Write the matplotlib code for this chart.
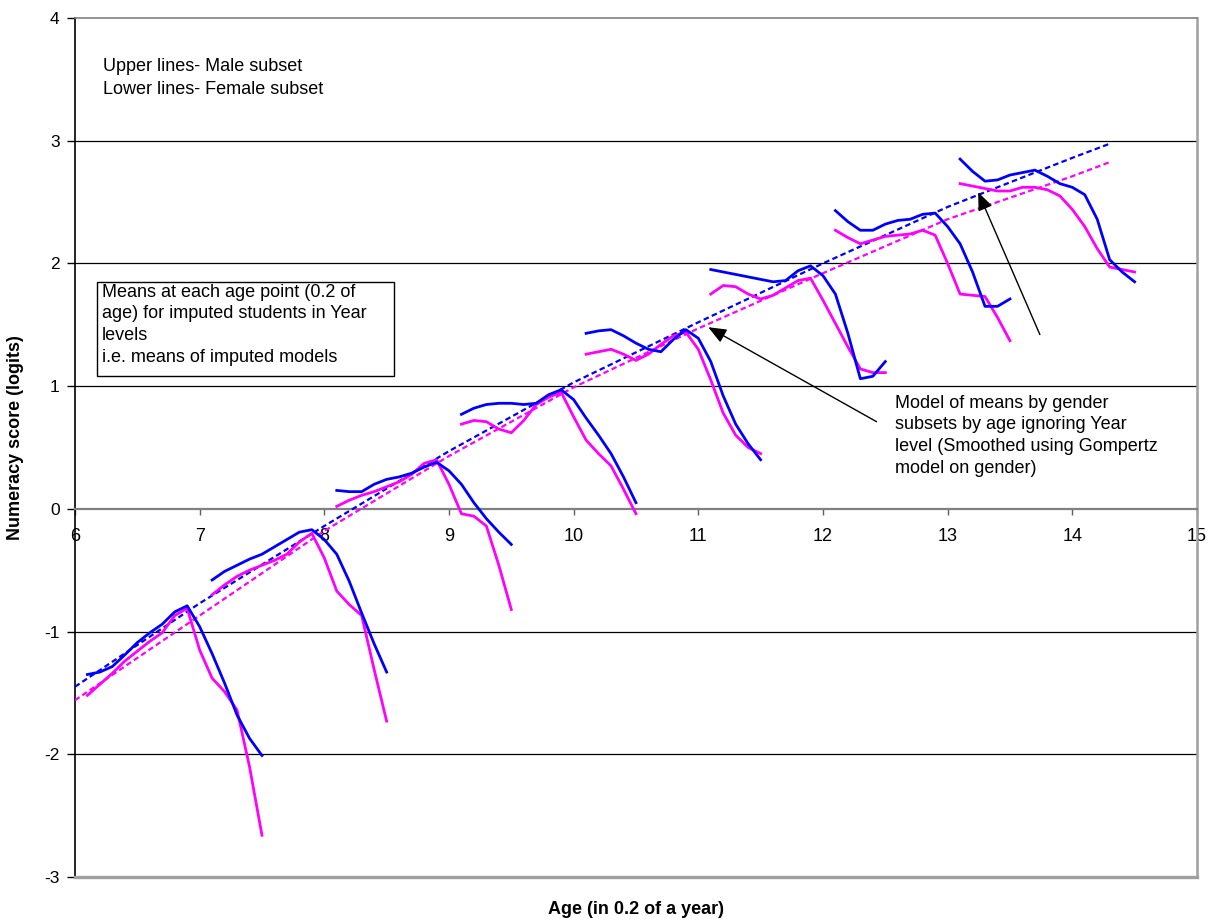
import matplotlib.pyplot as plt
from matplotlib.ticker import FixedLocator
from matplotlib.patches import Rectangle

plt.rcParams['font.family'] = ['Liberation Sans', 'DejaVu Sans']
plt.rcParams['axes.unicode_minus'] = False

# each Year level covers ages start+0.1 ... start+1.5
year_starts = [6, 7, 8, 9, 10, 11, 12, 13]
age_offsets = [0.1, 0.2, 0.3, 0.4, 0.5, 0.6, 0.7, 0.8, 0.9, 1.0, 1.1, 1.2, 1.3, 1.4, 1.5]

# mean numeracy (logits) by age point, male subset
male_means = [
    [-1.35, -1.33, -1.285, -1.19, -1.09, -1.01, -0.94, -0.84, -0.79, -0.96, -1.18, -1.42, -1.68, -1.87, -2.01],
    [-0.58, -0.51, -0.46, -0.41, -0.37, -0.31, -0.25, -0.19, -0.17, -0.25, -0.37, -0.59, -0.85, -1.10, -1.33],
    [0.15, 0.14, 0.14, 0.20, 0.24, 0.26, 0.29, 0.34, 0.38, 0.31, 0.20, 0.05, -0.08, -0.19, -0.29],
    [0.77, 0.82, 0.85, 0.86, 0.86, 0.85, 0.86, 0.93, 0.97, 0.89, 0.74, 0.60, 0.45, 0.26, 0.05],
    [1.43, 1.45, 1.46, 1.41, 1.35, 1.30, 1.28, 1.38, 1.46, 1.39, 1.20, 0.92, 0.69, 0.53, 0.40],
    [1.95, 1.93, 1.91, 1.89, 1.87, 1.85, 1.86, 1.94, 1.98, 1.90, 1.75, 1.43, 1.06, 1.08, 1.20],
    [2.43, 2.34, 2.27, 2.27, 2.32, 2.35, 2.36, 2.40, 2.41, 2.30, 2.16, 1.93, 1.65, 1.65, 1.71],
    [2.85, 2.75, 2.67, 2.68, 2.72, 2.74, 2.76, 2.71, 2.65, 2.62, 2.56, 2.36, 2.03, 1.93, 1.85],
]

# female subset
female_means = [
    [-1.52, -1.43, -1.34, -1.24, -1.16, -1.08, -1.01, -0.87, -0.81, -1.15, -1.38, -1.49, -1.64, -2.10, -2.66],
    [-0.70, -0.62, -0.55, -0.50, -0.46, -0.42, -0.37, -0.27, -0.20, -0.40, -0.67, -0.78, -0.87, -1.31, -1.73],
    [0.02, 0.07, 0.11, 0.14, 0.18, 0.22, 0.28, 0.37, 0.40, 0.20, -0.04, -0.06, -0.14, -0.46, -0.82],
    [0.69, 0.72, 0.71, 0.65, 0.62, 0.72, 0.85, 0.91, 0.95, 0.75, 0.56, 0.45, 0.35, 0.16, -0.04],
    [1.26, 1.28, 1.30, 1.26, 1.21, 1.26, 1.34, 1.41, 1.44, 1.30, 1.05, 0.78, 0.60, 0.50, 0.45],
    [1.75, 1.82, 1.81, 1.75, 1.71, 1.74, 1.80, 1.86, 1.88, 1.70, 1.51, 1.32, 1.14, 1.11, 1.11],
    [2.27, 2.21, 2.16, 2.19, 2.22, 2.23, 2.24, 2.27, 2.23, 2.00, 1.75, 1.74, 1.73, 1.56, 1.37],
    [2.65, 2.63, 2.61, 2.59, 2.59, 2.62, 2.62, 2.60, 2.55, 2.44, 2.30, 2.12, 1.97, 1.95, 1.93],
]

# Gompertz model by gender, ignoring Year level
model_age = [6, 7, 8, 9, 10, 11, 12, 13, 14, 14.3]
model_male = [-1.45, -0.77, -0.14, 0.47, 1.03, 1.52, 2.00, 2.46, 2.86, 2.975]
model_female = [-1.56, -0.87, -0.18, 0.43, 0.99, 1.47, 1.92, 2.36, 2.71, 2.825]

blue = '#0000FF'
pink = '#FF00FF'

fig = plt.figure(figsize=(12.11, 9.21), dpi=100)
ax = fig.add_axes([0.0619, 0.0478, 0.9265, 0.9327])

ax.set_xlim(6, 15)
ax.set_ylim(-3, 4)

# horizontal gridlines
for g in [-2, -1, 1, 2, 3]:
    ax.axhline(g, color='black', lw=0.9, zorder=1)

ax.plot(model_age, model_male, color=blue, lw=1.6, ls=(0, (2.5, 1.5)), zorder=3)
ax.plot(model_age, model_female, color=pink, lw=1.6, ls=(0, (2.5, 1.5)), zorder=3)

for start, m, f in zip(year_starts, male_means, female_means):
    ages = [start + o for o in age_offsets]
    ax.plot(ages, f, color=pink, lw=2.0, zorder=4)
    ax.plot(ages, m, color=blue, lw=2.0, zorder=5)

# axes styling: x axis crosses at 0
ax.spines['bottom'].set_position(('data', 0))
ax.spines['bottom'].set_color('#808080')
ax.spines['bottom'].set_linewidth(1.6)
ax.spines['left'].set_color('black')
ax.spines['left'].set_linewidth(1.2)
ax.spines['top'].set_color('#808080')
ax.spines['top'].set_linewidth(1.2)
ax.spines['right'].set_color('#a0a0a0')
ax.spines['right'].set_linewidth(1.8)
ax.axhline(-3, color='#a0a0a0', lw=2.4, clip_on=False, zorder=6)

ax.xaxis.set_major_locator(FixedLocator(range(6, 16)))
ax.yaxis.set_major_locator(FixedLocator(range(-3, 5)))
ax.tick_params(axis='x', direction='out', length=4, width=1, color='#606060',
               pad=10, labelsize=13)
ax.tick_params(axis='y', direction='out', length=6, width=1, color='black',
               pad=5, labelsize=12.5)

ax.set_xlabel('Age (in 0.2 of a year)', fontsize=13, fontweight='bold')
ax.xaxis.set_label_coords(0.5, -0.028)
ax.set_ylabel('Numeracy score (logits)', fontsize=13, fontweight='bold')
ax.yaxis.set_label_coords(-0.045, 0.512)

ax.text(6.225, 3.67, 'Upper lines- Male subset\nLower lines- Female subset',
        fontsize=13, va='top', ha='left', linespacing=1.42)

ax.add_patch(Rectangle((6.176, 1.084), 2.383, 0.766, facecolor='white',
                       edgecolor='black', lw=1.0, zorder=6))
ax.text(6.214, 1.835,
        'Means at each age point (0.2 of\nage) for imputed students in Year\nlevels\ni.e. means of imputed models',
        fontsize=13, va='top', ha='left', linespacing=1.36, zorder=7)

ax.text(12.58, 0.93,
        'Model of means by gender\nsubsets by age ignoring Year\nlevel (Smoothed using Gompertz\nmodel on gender)',
        fontsize=13, va='top', ha='left', linespacing=1.36)

arrow = dict(arrowstyle='-|>,head_length=1.1,head_width=0.45', color='black', lw=1.0,
             shrinkA=0, shrinkB=0)
ax.annotate('', xy=(11.08, 1.48), xytext=(12.43, 0.71), arrowprops=arrow, zorder=7)
ax.annotate('', xy=(13.245, 2.58), xytext=(13.74, 1.42), arrowprops=arrow, zorder=7)

fig.savefig('out.png', dpi=100, facecolor='white')
